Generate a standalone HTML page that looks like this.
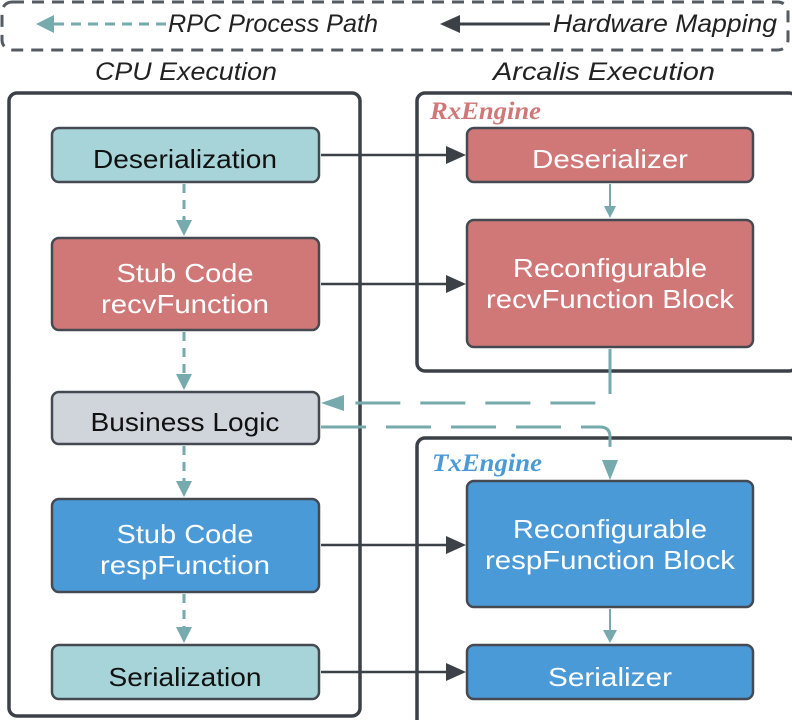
<!DOCTYPE html>
<html><head><style>body{margin:0;background:#fff}svg{display:block}</style></head><body>
<svg width="792" height="720" viewBox="0 0 792 720" xmlns="http://www.w3.org/2000/svg" font-family="Liberation Sans, DejaVu Sans, sans-serif">
<g fill="none" stroke-linejoin="round">
<rect x="2" y="2" width="786" height="48" rx="10" stroke="#555b62" stroke-width="3" stroke-dasharray="12,8"/>
<rect x="9" y="93" width="351" height="623" rx="8" stroke="#3c4148" stroke-width="3.5"/>
<rect x="417" y="93" width="380" height="278" rx="8" stroke="#3c4148" stroke-width="3.5"/>
<rect x="417" y="438" width="380" height="290" rx="8" stroke="#3c4148" stroke-width="3.5"/>
</g>
<line x1="166" y1="24" x2="52" y2="24" stroke="#76aaad" stroke-width="3" stroke-dasharray="10,7"/>
<path d="M36,24 L54,15 L54,33z" fill="#76aaad"/>
<line x1="550" y1="24" x2="458" y2="24" stroke="#3c4148" stroke-width="3"/>
<path d="M440,24 L460,15 L460,33z" fill="#3c4148"/>
<g font-style="italic" font-size="25" fill="#222">
<text x="168" y="32" textLength="210" lengthAdjust="spacingAndGlyphs">RPC Process Path</text>
<text x="553" y="32" textLength="224" lengthAdjust="spacingAndGlyphs">Hardware Mapping</text>
<text x="95" y="80" textLength="182" lengthAdjust="spacingAndGlyphs">CPU Execution</text>
<text x="493" y="80" textLength="222" lengthAdjust="spacingAndGlyphs">Arcalis Execution</text>
</g>
<g font-family="Liberation Serif, serif" font-style="italic" font-weight="bold" font-size="25">
<text x="430" y="119" fill="#d07878" textLength="111" lengthAdjust="spacingAndGlyphs">RxEngine</text>
<text x="432" y="471" fill="#4a9ad8" textLength="110" lengthAdjust="spacingAndGlyphs">TxEngine</text>
</g>
<g stroke="#76aaad" stroke-width="3" stroke-dasharray="9,7" fill="none">
<line x1="184" y1="184" x2="184" y2="222"/>
<line x1="184" y1="332" x2="184" y2="376"/>
<line x1="184" y1="446" x2="184" y2="483"/>
<line x1="184" y1="594" x2="184" y2="629"/>
<path d="M610,349 V394 Q610,403 600,403 H345" stroke-dasharray="45,20"/>
<path d="M321,427 H600 Q610,427 610,437 V462" stroke-dasharray="45,20"/>
</g>
<g fill="#76aaad">
<path d="M184,236 L176,220 L192,220z"/>
<path d="M184,390 L176,374 L192,374z"/>
<path d="M184,497 L176,481 L192,481z"/>
<path d="M184,643 L176,627 L192,627z"/>
<path d="M321,403 L344,395 L344,411z"/>
<path d="M610,480 L602,460 L618,460z"/>
<path d="M610,218 L604,206 L616,206z"/>
<path d="M610,643 L603,630 L617,630z"/>
</g>
<line x1="610" y1="184" x2="610" y2="208" stroke="#76aaad" stroke-width="2"/>
<line x1="610" y1="609" x2="610" y2="632" stroke="#76aaad" stroke-width="2"/>
<g stroke="#3c4148" stroke-width="2.5">
<line x1="321" y1="155" x2="448" y2="155"/>
<line x1="321" y1="284" x2="448" y2="284"/>
<line x1="321" y1="545" x2="448" y2="545"/>
<line x1="321" y1="672" x2="448" y2="672"/>
</g>
<g fill="#3c4148">
<path d="M466,155 L446,146 L446,164z"/>
<path d="M466,284 L446,275 L446,293z"/>
<path d="M466,545 L446,536 L446,554z"/>
<path d="M466,672 L446,663 L446,681z"/>
</g>
<g stroke="#454a52" stroke-width="2.5">
<rect x="52" y="128" width="267" height="54" rx="7" fill="#a6d4d8"/>
<rect x="52" y="238" width="267" height="92" rx="7" fill="#d07878"/>
<rect x="52" y="392" width="267" height="52" rx="7" fill="#d0d5dc"/>
<rect x="52" y="499" width="267" height="93" rx="7" fill="#4a9ad8"/>
<rect x="52" y="645" width="267" height="54" rx="7" fill="#a6d4d8"/>
<rect x="467" y="128" width="286" height="54" rx="7" fill="#d07878"/>
<rect x="467" y="220" width="286" height="127" rx="7" fill="#d07878"/>
<rect x="467" y="481" width="286" height="126" rx="7" fill="#4a9ad8"/>
<rect x="467" y="645" width="286" height="54" rx="7" fill="#4a9ad8"/>
</g>
<g font-size="26" text-anchor="middle">
<text x="185" y="168" fill="#111" textLength="184" lengthAdjust="spacingAndGlyphs">Deserialization</text>
<text x="185" y="282" fill="#fff" textLength="137" lengthAdjust="spacingAndGlyphs">Stub Code</text>
<text x="185" y="313" fill="#fff" textLength="168" lengthAdjust="spacingAndGlyphs">recvFunction</text>
<text x="185" y="431" fill="#111" textLength="189" lengthAdjust="spacingAndGlyphs">Business Logic</text>
<text x="185" y="543" fill="#fff" textLength="137" lengthAdjust="spacingAndGlyphs">Stub Code</text>
<text x="185" y="574" fill="#fff" textLength="170" lengthAdjust="spacingAndGlyphs">respFunction</text>
<text x="185" y="686" fill="#111" textLength="153" lengthAdjust="spacingAndGlyphs">Serialization</text>
<text x="610" y="168" fill="#fff" textLength="156" lengthAdjust="spacingAndGlyphs">Deserializer</text>
<text x="610" y="277" fill="#fff" textLength="194" lengthAdjust="spacingAndGlyphs">Reconfigurable</text>
<text x="610" y="308" fill="#fff" textLength="248" lengthAdjust="spacingAndGlyphs">recvFunction Block</text>
<text x="610" y="538" fill="#fff" textLength="194" lengthAdjust="spacingAndGlyphs">Reconfigurable</text>
<text x="610" y="569" fill="#fff" textLength="250" lengthAdjust="spacingAndGlyphs">respFunction Block</text>
<text x="610" y="686" fill="#fff" textLength="124" lengthAdjust="spacingAndGlyphs">Serializer</text>
</g>
</svg>
</body></html>
